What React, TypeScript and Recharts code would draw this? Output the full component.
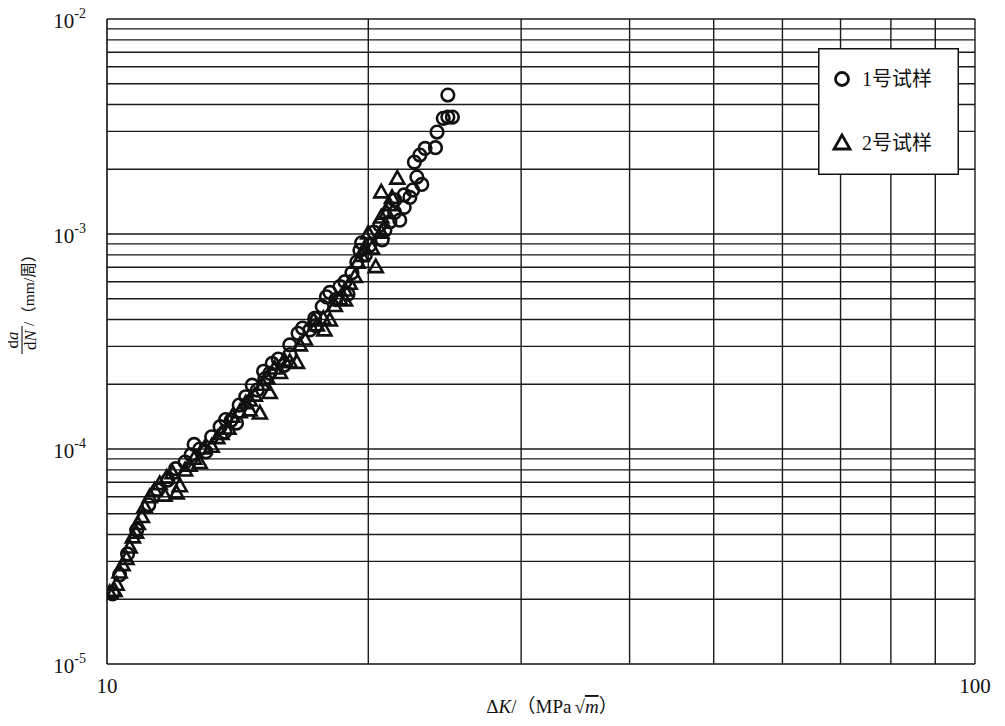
import React from 'react';
import { ScatterChart, Scatter, XAxis, YAxis, ReferenceLine, Legend } from 'recharts';

// 1号试样 (circles): ΔK in MPa·√m, da/dN in mm/周
const sample1K = [
  10.15, 10.34, 10.56, 10.82, 11.17, 11.44, 11.75, 12.0, 12.3, 12.5, 12.79, 13.0, 13.2, 13.5, 13.7,
  13.9, 14.1, 14.2, 14.45, 14.7, 14.9, 15.2, 15.5, 15.75, 16.0, 16.24, 16.6, 16.8, 17.13, 17.35, 17.7,
  17.9, 18.06, 18.35, 18.55, 18.8, 18.95, 19.15, 19.4, 19.56, 19.85, 20.08, 20.3, 20.62, 20.9, 21.18,
  21.45, 21.74, 22.0, 22.33, 22.5, 22.75, 23.05, 22.6, 22.93, 23.25, 23.9, 24.0, 24.4, 24.7, 25.0,
  24.7, 21.45, 22.0, 16.24, 15.4, 13.67, 12.6, 15.15, 17.4, 20.75, 19.65,
];
const sample1Rate = [
  2.12e-5, 2.6e-5, 3.25e-5, 4.2e-5, 5.5e-5, 6.45e-5, 7.17e-5, 8.1e-5, 8.7e-5, 9.4e-5, 1.0e-4, 9.7e-5,
  1.14e-4, 1.27e-4, 1.37e-4, 1.36e-4, 1.32e-4, 1.6e-4, 1.75e-4, 1.98e-4, 1.88e-4, 2.12e-4, 2.5e-4,
  2.62e-4, 2.45e-4, 3.05e-4, 3.45e-4, 3.65e-4, 3.58e-4, 4.05e-4, 4.6e-4, 5.1e-4, 5.35e-4, 4.95e-4,
  5.7e-4, 6.0e-4, 5.25e-4, 6.6e-4, 7.4e-4, 8.4e-4, 8.0e-4, 8.85e-4, 1.02e-3, 1.1e-3, 1.04e-3, 1.14e-3,
  1.26e-3, 1.16e-3, 1.33e-3, 1.48e-3, 1.6e-3, 1.84e-3, 1.7e-3, 2.16e-3, 2.33e-3, 2.5e-3, 2.52e-3,
  2.98e-3, 3.45e-3, 3.5e-3, 3.5e-3, 4.43e-3, 1.44e-3, 1.52e-3, 2.75e-4, 2.25e-4, 1.2e-4, 1.05e-4,
  2.3e-4, 3.75e-4, 9.4e-4, 9.1e-4,
];

// 2号试样 (triangles)
const sample2K = [
  10.07, 10.2, 10.26, 10.34, 10.42, 10.53, 10.62, 10.71, 10.8, 10.85, 10.97, 11.05, 11.2, 11.35, 11.5,
  11.65, 11.72, 11.9, 12.03, 12.13, 12.3, 12.45, 12.6, 12.79, 12.95, 13.2, 13.4, 13.55, 13.8, 13.95,
  14.22, 14.45, 14.6, 14.8, 15.0, 15.1, 15.3, 15.4, 15.6, 15.82, 16.0, 16.24, 16.55, 16.68, 16.9, 17.3,
  17.45, 17.75, 18.06, 18.3, 18.55, 18.8, 19.04, 19.3, 19.45, 19.65, 20.0, 20.2, 20.4, 20.7, 20.7, 21.0,
  21.3, 21.6, 20.7, 21.15, 19.8, 18.8, 17.8, 14.6,
];
const sample2Rate = [
  2.15e-5, 2.2e-5, 2.35e-5, 2.68e-5, 2.9e-5, 3.1e-5, 3.5e-5, 3.9e-5, 4.1e-5, 4.5e-5, 4.85e-5, 5.4e-5,
  6.0e-5, 6.45e-5, 6.9e-5, 6.1e-5, 7.4e-5, 7.75e-5, 6.25e-5, 6.75e-5, 7.99e-5, 8.4e-5, 9.05e-5, 8.65e-5,
  1.01e-4, 1.03e-4, 1.13e-4, 1.18e-4, 1.25e-4, 1.42e-4, 1.49e-4, 1.64e-4, 1.69e-4, 1.78e-4, 1.47e-4,
  2.0e-4, 2.14e-4, 1.83e-4, 2.38e-4, 2.27e-4, 2.59e-4, 2.55e-4, 2.53e-4, 3.05e-4, 3.25e-4, 3.98e-4,
  3.78e-4, 4.05e-4, 3.98e-4, 4.65e-4, 5.0e-4, 5.49e-4, 5.9e-4, 6.35e-4, 7.4e-4, 7.95e-4, 1.01e-3,
  8.6e-4, 7.05e-4, 1.02e-3, 1.2e-3, 1.26e-3, 1.48e-3, 1.82e-3, 1.57e-3, 1.37e-3, 8.6e-4, 4.93e-4,
  3.58e-4, 1.52e-4,
];

const xTicks = [10, 100];
const yTicks = [1e-5, 1e-4, 1e-3, 1e-2];
const xGrid = [20, 30, 40, 50, 60, 70, 80, 90, 100];
const yDecades = [1e-5, 1e-4, 1e-3];
const yMantissas = [2, 3, 4, 5, 6, 7, 8, 9, 10];

const legendLabels = ['1号试样', '2号试样'];

const FONT = "'Liberation Serif', 'Noto Sans CJK SC', serif";
const INK = '#111';

const toPoints = (ks: number[], rates: number[]) =>
  ks.slice(0, Math.min(ks.length, rates.length)).map((k, i) => ({ x: k, y: rates[i] }));

const data1 = toPoints(sample1K, sample1Rate);
const data2 = toPoints(sample2K, sample2Rate);

const yGrid: number[] = [];
yDecades.forEach((d) => yMantissas.forEach((m) => yGrid.push(+(m * d).toPrecision(3))));

const CircleMark = (p: any) => (
  <circle cx={p.cx} cy={p.cy} r={6.3} fill="none" stroke={INK} strokeWidth={2.6} />
);

const TriMark = (p: any) => {
  const { cx, cy } = p;
  return (
    <polygon
      points={`${cx},${cy - 7} ${cx - 7},${cy + 5.5} ${cx + 7},${cy + 5.5}`}
      fill="none"
      stroke={INK}
      strokeWidth={2.6}
    />
  );
};

const XTick = ({ x, y, payload }: any) => (
  <text x={x} y={y + 27} textAnchor="middle" fontFamily={FONT} fontSize={21} fill={INK}>
    {payload.value}
  </text>
);

const YTick = ({ x, y, payload }: any) => {
  const exp = Math.round(Math.log10(payload.value));
  return (
    <text x={x} y={y + 9} textAnchor="end" fontFamily={FONT} fontSize={21} fill={INK}>
      10
      <tspan fontSize={14} dy={-10}>
        {exp}
      </tspan>
    </text>
  );
};

const XLabel = ({ viewBox }: any) => {
  const cx = viewBox.x + viewBox.width / 2 + 11;
  const by = viewBox.y + 49;
  return (
    <text x={cx} y={by} textAnchor="middle" fontFamily={FONT} fontSize={19} fill={INK}>
      Δ<tspan fontStyle="italic">K</tspan>/（MPa
      <tspan dx={3}>√</tspan>
      <tspan fontStyle="italic" style={{ textDecoration: 'overline' }}>m</tspan>）
    </text>
  );
};

const YLabel = ({ viewBox }: any) => {
  const cx = viewBox.x + 22;
  const cy = viewBox.y + 286;
  return (
    <g transform={`translate(${cx},${cy}) rotate(-90)`} fontFamily={FONT} fill={INK}>
      <text x={-35} y={-4} textAnchor="middle" fontSize={17}>
        d<tspan fontStyle="italic">a</tspan>
      </text>
      <line x1={-49} x2={-21} y1={0} y2={0} stroke={INK} strokeWidth={1.1} />
      <text x={-35} y={14} textAnchor="middle" fontSize={17}>
        d<tspan fontStyle="italic">N</tspan>
      </text>
      <text x={-21} y={12} textAnchor="start" fontSize={15.5}>
        /（mm/周）
      </text>
    </g>
  );
};

const LegendBox = () => (
  <svg width={141} height={127} style={{ display: 'block' }}>
    <rect x={0.75} y={0.75} width={139.5} height={125.5} fill="#fff" stroke={INK} strokeWidth={1.5} />
    <circle cx={24} cy={31} r={6.5} fill="none" stroke={INK} strokeWidth={2.8} />
    <text x={44} y={38} fontFamily={FONT} fontSize={20} fill={INK}>
      {legendLabels[0]}
    </text>
    <polygon points="24,87 16,101 32,101" fill="none" stroke={INK} strokeWidth={2.8} />
    <text x={44} y={102} fontFamily={FONT} fontSize={20} fill={INK}>
      {legendLabels[1]}
    </text>
  </svg>
);

export default function App() {
  return (
    <div style={{ marginLeft: -8, marginTop: -8, width: 1005, height: 726, position: 'relative', background: '#fff' }}>
      <ScatterChart width={1005} height={726} margin={{ top: 19, right: 30, left: 0, bottom: 8 }}>
        <XAxis
          type="number"
          dataKey="x"
          scale="log"
          domain={[10, 100]}
          ticks={xTicks}
          allowDataOverflow
          height={54}
          tickLine={false}
          tickSize={0}
          axisLine={{ stroke: INK, strokeWidth: 1.6 }}
          tick={<XTick />}
          label={<XLabel />}
        />
        <YAxis
          type="number"
          dataKey="y"
          scale="log"
          domain={[1e-5, 1e-2]}
          ticks={yTicks}
          allowDataOverflow
          width={107}
          tickLine={false}
          tickSize={0}
          tickMargin={21}
          axisLine={{ stroke: INK, strokeWidth: 1.6 }}
          tick={<YTick />}
          label={<YLabel />}
        />
        {yGrid.map((v) => (
          <ReferenceLine key={`h${v}`} y={v} stroke="#1a1a1a" strokeWidth={1.4} />
        ))}
        {xGrid.map((v) => (
          <ReferenceLine key={`v${v}`} x={v} stroke="#1a1a1a" strokeWidth={1.4} />
        ))}
        <Legend
          layout="horizontal"
          verticalAlign="middle"
          align="center"
          wrapperStyle={{ left: 818, top: 48, width: 141, height: 127 }}
          content={() => <LegendBox />}
        />
        <Scatter name={legendLabels[0]} data={data1} shape={<CircleMark />} isAnimationActive={false} />
        <Scatter name={legendLabels[1]} data={data2} shape={<TriMark />} isAnimationActive={false} />
      </ScatterChart>
    </div>
  );
}
